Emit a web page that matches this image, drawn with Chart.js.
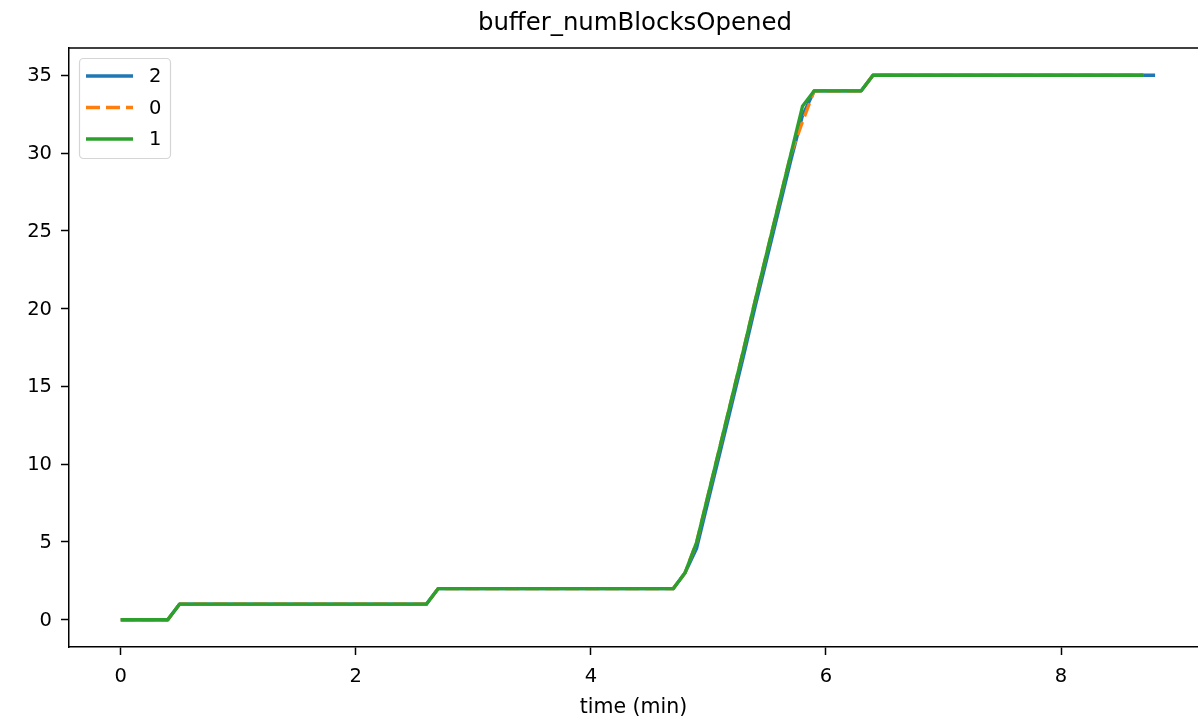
<!DOCTYPE html>
<html>
<head>
<meta charset="utf-8">
<script src="https://cdn.jsdelivr.net/npm/chart.js@4.4.1/dist/chart.umd.min.js"></script>
<style>
   html, body { margin: 0; padding: 0; background: #fff; }
   #wrap { width: 1198px; height: 723px; }
</style>
</head>
<body>
<div id="wrap"><canvas id="numBlocksChart" width="1198" height="723"></canvas></div>
<script>
// time axis (minutes), one sample every 0.1 min
const timeMin = [
   0.0, 0.1, 0.2, 0.3, 0.4, 0.5, 0.6, 0.7, 0.8, 0.9,
   1.0, 1.1, 1.2, 1.3, 1.4, 1.5, 1.6, 1.7, 1.8, 1.9,
   2.0, 2.1, 2.2, 2.3, 2.4, 2.5, 2.6, 2.7, 2.8, 2.9,
   3.0, 3.1, 3.2, 3.3, 3.4, 3.5, 3.6, 3.7, 3.8, 3.9,
   4.0, 4.1, 4.2, 4.3, 4.4, 4.5, 4.6, 4.7, 4.8, 4.9,
   5.0, 5.1, 5.2, 5.3, 5.4, 5.5, 5.6, 5.7, 5.8, 5.9,
   6.0, 6.1, 6.2, 6.3, 6.4, 6.5, 6.6, 6.7, 6.8, 6.9,
   7.0, 7.1, 7.2, 7.3, 7.4, 7.5, 7.6, 7.7, 7.8, 7.9,
   8.0, 8.1, 8.2, 8.3, 8.4, 8.5, 8.6, 8.7, 8.8
];

// series "2"
const blocks2 = [
   0, 0, 0, 0, 0, 1, 1, 1, 1, 1,
   1, 1, 1, 1, 1, 1, 1, 1, 1, 1,
   1, 1, 1, 1, 1, 1, 1, 2, 2, 2,
   2, 2, 2, 2, 2, 2, 2, 2, 2, 2,
   2, 2, 2, 2, 2, 2, 2, 2, 3, 4.6,
   7.7, 10.8, 13.9, 17.0, 20.2, 23.3, 26.4, 29.5, 32.4, 34,
   34, 34, 34, 34, 35, 35, 35, 35, 35, 35,
   35, 35, 35, 35, 35, 35, 35, 35, 35, 35,
   35, 35, 35, 35, 35, 35, 35, 35, 35
];

// series "0"
const blocks0 = [
   0, 0, 0, 0, 0, 1, 1, 1, 1, 1,
   1, 1, 1, 1, 1, 1, 1, 1, 1, 1,
   1, 1, 1, 1, 1, 1, 1, 2, 2, 2,
   2, 2, 2, 2, 2, 2, 2, 2, 2, 2,
   2, 2, 2, 2, 2, 2, 2, 2, 3, 5,
   8.1, 11.2, 14.3, 17.4, 20.6, 23.7, 26.8, 29.9, 32, 34,
   34, 34, 34, 34, 35, 35, 35, 35, 35, 35,
   35, 35, 35, 35, 35, 35, 35, 35, 35, 35,
   35, 35, 35, 35, 35, 35, 35, 35
];

// series "1"
const blocks1 = [
   0, 0, 0, 0, 0, 1, 1, 1, 1, 1,
   1, 1, 1, 1, 1, 1, 1, 1, 1, 1,
   1, 1, 1, 1, 1, 1, 1, 2, 2, 2,
   2, 2, 2, 2, 2, 2, 2, 2, 2, 2,
   2, 2, 2, 2, 2, 2, 2, 2, 3, 5,
   8.1, 11.2, 14.3, 17.4, 20.6, 23.7, 26.8, 29.9, 33, 34,
   34, 34, 34, 34, 35, 35, 35, 35, 35, 35,
   35, 35, 35, 35, 35, 35, 35, 35, 35, 35,
   35, 35, 35, 35, 35, 35, 35, 35
];

const xTicks = [0, 2, 4, 6, 8];
const yTicks = [0, 5, 10, 15, 20, 25, 30, 35];
const legendOrder = ['2', '0', '1'];
const chartTitle = 'buffer_numBlocksOpened';

const FONT = 'DejaVu Sans';

function toPoints(values){
   return values.map((v, i) => ({x: timeMin[i], y: v}));
}

// title, top spine and a matplotlib style legend box
const framePlugin = {
   id: 'frame',
   afterDraw(chart){
      const ctx = chart.ctx;
      const area = chart.chartArea;
      ctx.save();
      ctx.strokeStyle = '#000';
      ctx.lineWidth = 1.5;
      ctx.beginPath();
      ctx.moveTo(area.left, area.top);
      ctx.lineTo(chart.width, area.top);
      ctx.stroke();

      // axes run past the right edge of the figure, so centre on the full axes
      const xs = chart.scales.x;
      const axesRight = xs.getPixelForValue(9.24);
      ctx.font = '24.4px "' + FONT + '"';
      ctx.fillStyle = '#000';
      ctx.textAlign = 'center';
      ctx.textBaseline = 'middle';
      ctx.fillText(chartTitle, (area.left + axesRight) / 2 - 3, 24);

      // legend
      const bx = 79.5, by = 58.5, bw = 91, bh = 100;
      ctx.beginPath();
      ctx.roundRect(bx, by, bw, bh, 4);
      ctx.fillStyle = 'rgba(255,255,255,0.8)';
      ctx.fill();
      ctx.strokeStyle = '#d5d5d5';
      ctx.lineWidth = 1.2;
      ctx.stroke();

      ctx.font = '19.5px "' + FONT + '"';
      ctx.textAlign = 'left';
      ctx.fillStyle = '#000';
      legendOrder.forEach((lbl, i) => {
         const ds = chart.data.datasets.find(d => d.label === lbl);
         const y = 76 + i * 31.5;
         ctx.beginPath();
         ctx.strokeStyle = ds.borderColor;
         ctx.lineWidth = ds.borderWidth;
         ctx.setLineDash(ds.borderDash || []);
         ctx.moveTo(86, y);
         ctx.lineTo(133, y);
         ctx.stroke();
         ctx.setLineDash([]);
         ctx.fillText(lbl, 149, y + 1);
      });
      ctx.restore();
   }
};

const chartE = document.getElementById('numBlocksChart').getContext('2d');
const numBlocksChart = new Chart(chartE, {
   type: 'line',
   data: {
      datasets: [
         {
            label: '1',
            data: toPoints(blocks1),
            borderColor: '#2ca02c',
            borderWidth: 3.3,
            order: 0,
         },
         {
            label: '0',
            data: toPoints(blocks0),
            borderColor: '#ff7f0e',
            borderWidth: 3.3,
            borderDash: [14, 6],
            order: 1,
         },
         {
            label: '2',
            data: toPoints(blocks2),
            borderColor: '#1f77b4',
            borderWidth: 3.3,
            order: 2,
         }
      ]
   },
   options: {
      responsive: false,
      animation: false,
      events: [],
      layout: { padding: { left: 0, right: 0, top: 48, bottom: 0 } },
      elements: {
         point: { radius: 0 },
         line: { tension: 0, borderCapStyle: 'butt', borderJoinStyle: 'round' }
      },
      plugins: {
         legend: { display: false },
         tooltip: { enabled: false },
         title: { display: false }
      },
      scales: {
         x: {
            type: 'linear',
            min: -0.44,
            max: 9.165,
            afterBuildTicks: s => { s.ticks = xTicks.map(v => ({value: v})); },
            afterFit: s => { s.height = 76; },
            grid: { drawOnChartArea: false, drawTicks: true, tickLength: 8, tickWidth: 1.5, tickColor: '#000' },
            border: { display: true, color: '#000', width: 1.5 },
            ticks: {
               color: '#000',
               padding: 10,
               maxRotation: 0,
               autoSkip: false,
               font: { family: FONT, size: 19.5 },
               callback: v => String(v)
            },
            title: {
               display: true,
               text: 'time (min)',
               color: '#000',
               font: { family: FONT, size: 20.5 },
               padding: { top: 0, bottom: 3 }
            }
         },
         y: {
            type: 'linear',
            min: -1.75,
            max: 36.75,
            afterBuildTicks: s => { s.ticks = yTicks.map(v => ({value: v})); },
            afterFit: s => { s.width = 69; },
            grid: { drawOnChartArea: false, drawTicks: true, tickLength: 8, tickWidth: 1.5, tickColor: '#000' },
            border: { display: true, color: '#000', width: 1.5 },
            ticks: {
               color: '#000',
               padding: 9,
               labelOffset: 1,
               autoSkip: false,
               font: { family: FONT, size: 19.5 },
               callback: v => String(v)
            }
         }
      }
   },
   plugins: [framePlugin]
});
</script>
</body>
</html>
